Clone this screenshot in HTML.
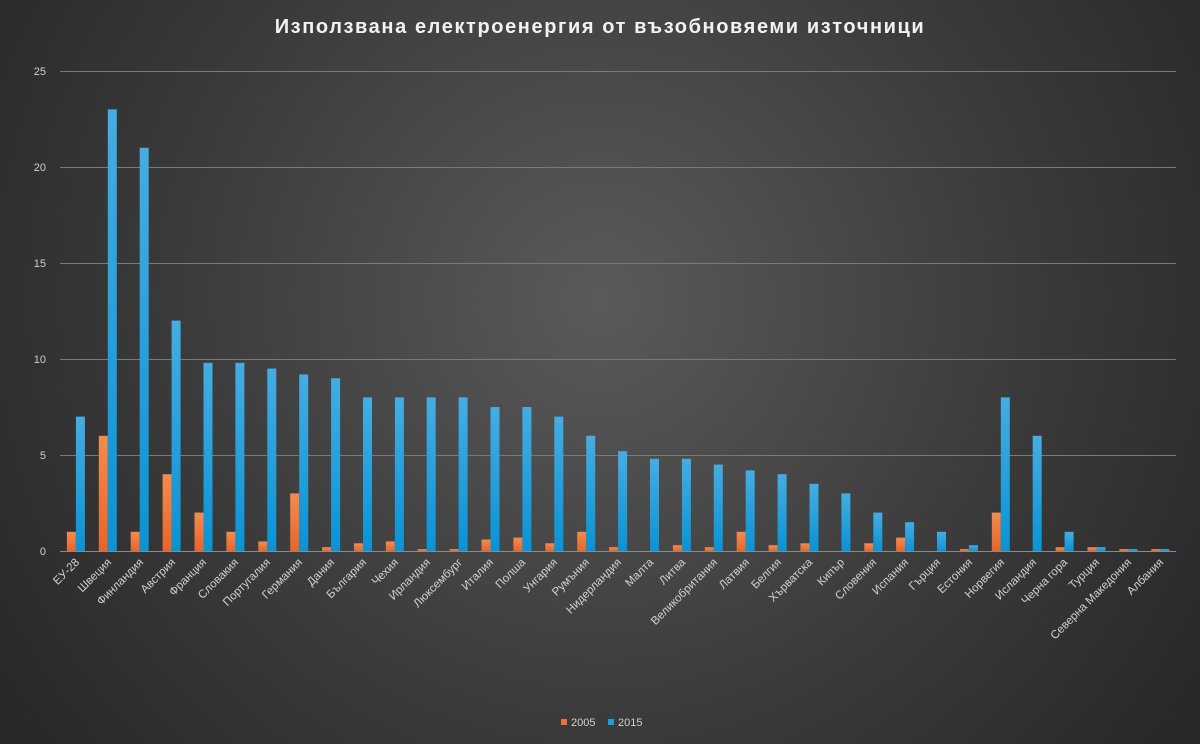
<!DOCTYPE html>
<html><head><meta charset="utf-8"><style>
html,body{margin:0;padding:0;}
body{width:1200px;height:744px;overflow:hidden;background:#333;}
svg{display:block;font-family:"Liberation Sans","DejaVu Sans",sans-serif;}
</style></head><body>
<svg width="1200" height="744" viewBox="0 0 1200 744" xmlns="http://www.w3.org/2000/svg">
<defs>
<radialGradient id="bg" cx="600" cy="300" r="720" gradientUnits="userSpaceOnUse">
<stop offset="0" stop-color="#5a5a5a"/><stop offset="0.6" stop-color="#3a3a3a"/><stop offset="1" stop-color="#282828"/>
</radialGradient>
<linearGradient id="o" x1="0" y1="0" x2="0" y2="1"><stop offset="0" stop-color="#f28c50"/><stop offset="1" stop-color="#e8652a"/></linearGradient>
<linearGradient id="b" x1="0" y1="0" x2="0" y2="1"><stop offset="0" stop-color="#45ade2"/><stop offset="1" stop-color="#0a93d5"/></linearGradient>
</defs>
<rect width="1200" height="744" fill="url(#bg)"/>
<text x="600" y="33" text-anchor="middle" fill="#f2f2f2" font-size="20" font-weight="bold" letter-spacing="1.6">Използвана електроенергия от възобновяеми източници</text>
<g stroke="#7a7a7a" stroke-width="1">
<line x1="60" x2="1176" y1="71.5" y2="71.5"/><line x1="60" x2="1176" y1="167.5" y2="167.5"/><line x1="60" x2="1176" y1="263.5" y2="263.5"/><line x1="60" x2="1176" y1="359.5" y2="359.5"/><line x1="60" x2="1176" y1="455.5" y2="455.5"/>
</g>
<g fill="#cfcfcf" font-size="11" text-anchor="end">
<text x="46" y="75">25</text><text x="46" y="171">20</text><text x="46" y="267">15</text><text x="46" y="363">10</text><text x="46" y="459">5</text><text x="46" y="555">0</text>
</g>
<g>
<g transform="translate(75.9,0)"><rect x="-9" y="531.8" width="9" height="19.2" fill="url(#o)"/><rect x="0" y="416.6" width="9" height="134.4" fill="url(#b)"/></g>
<g transform="translate(107.8,0)"><rect x="-9" y="435.8" width="9" height="115.2" fill="url(#o)"/><rect x="0" y="109.4" width="9" height="441.6" fill="url(#b)"/></g>
<g transform="translate(139.7,0)"><rect x="-9" y="531.8" width="9" height="19.2" fill="url(#o)"/><rect x="0" y="147.8" width="9" height="403.2" fill="url(#b)"/></g>
<g transform="translate(171.6,0)"><rect x="-9" y="474.2" width="9" height="76.8" fill="url(#o)"/><rect x="0" y="320.6" width="9" height="230.4" fill="url(#b)"/></g>
<g transform="translate(203.5,0)"><rect x="-9" y="512.6" width="9" height="38.4" fill="url(#o)"/><rect x="0" y="362.8" width="9" height="188.2" fill="url(#b)"/></g>
<g transform="translate(235.4,0)"><rect x="-9" y="531.8" width="9" height="19.2" fill="url(#o)"/><rect x="0" y="362.8" width="9" height="188.2" fill="url(#b)"/></g>
<g transform="translate(267.3,0)"><rect x="-9" y="541.4" width="9" height="9.6" fill="url(#o)"/><rect x="0" y="368.6" width="9" height="182.4" fill="url(#b)"/></g>
<g transform="translate(299.2,0)"><rect x="-9" y="493.4" width="9" height="57.6" fill="url(#o)"/><rect x="0" y="374.4" width="9" height="176.6" fill="url(#b)"/></g>
<g transform="translate(331.1,0)"><rect x="-9" y="547.2" width="9" height="3.8" fill="url(#o)"/><rect x="0" y="378.2" width="9" height="172.8" fill="url(#b)"/></g>
<g transform="translate(363.0,0)"><rect x="-9" y="543.3" width="9" height="7.7" fill="url(#o)"/><rect x="0" y="397.4" width="9" height="153.6" fill="url(#b)"/></g>
<g transform="translate(394.9,0)"><rect x="-9" y="541.4" width="9" height="9.6" fill="url(#o)"/><rect x="0" y="397.4" width="9" height="153.6" fill="url(#b)"/></g>
<g transform="translate(426.7,0)"><rect x="-9" y="549.1" width="9" height="1.9" fill="url(#o)"/><rect x="0" y="397.4" width="9" height="153.6" fill="url(#b)"/></g>
<g transform="translate(458.6,0)"><rect x="-9" y="549.1" width="9" height="1.9" fill="url(#o)"/><rect x="0" y="397.4" width="9" height="153.6" fill="url(#b)"/></g>
<g transform="translate(490.5,0)"><rect x="-9" y="539.5" width="9" height="11.5" fill="url(#o)"/><rect x="0" y="407" width="9" height="144" fill="url(#b)"/></g>
<g transform="translate(522.4,0)"><rect x="-9" y="537.6" width="9" height="13.4" fill="url(#o)"/><rect x="0" y="407" width="9" height="144" fill="url(#b)"/></g>
<g transform="translate(554.3,0)"><rect x="-9" y="543.3" width="9" height="7.7" fill="url(#o)"/><rect x="0" y="416.6" width="9" height="134.4" fill="url(#b)"/></g>
<g transform="translate(586.2,0)"><rect x="-9" y="531.8" width="9" height="19.2" fill="url(#o)"/><rect x="0" y="435.8" width="9" height="115.2" fill="url(#b)"/></g>
<g transform="translate(618.1,0)"><rect x="-9" y="547.2" width="9" height="3.8" fill="url(#o)"/><rect x="0" y="451.2" width="9" height="99.8" fill="url(#b)"/></g>
<g transform="translate(650.0,0)"><rect x="0" y="458.8" width="9" height="92.2" fill="url(#b)"/></g>
<g transform="translate(681.9,0)"><rect x="-9" y="545.2" width="9" height="5.8" fill="url(#o)"/><rect x="0" y="458.8" width="9" height="92.2" fill="url(#b)"/></g>
<g transform="translate(713.8,0)"><rect x="-9" y="547.2" width="9" height="3.8" fill="url(#o)"/><rect x="0" y="464.6" width="9" height="86.4" fill="url(#b)"/></g>
<g transform="translate(745.7,0)"><rect x="-9" y="531.8" width="9" height="19.2" fill="url(#o)"/><rect x="0" y="470.4" width="9" height="80.6" fill="url(#b)"/></g>
<g transform="translate(777.6,0)"><rect x="-9" y="545.2" width="9" height="5.8" fill="url(#o)"/><rect x="0" y="474.2" width="9" height="76.8" fill="url(#b)"/></g>
<g transform="translate(809.5,0)"><rect x="-9" y="543.3" width="9" height="7.7" fill="url(#o)"/><rect x="0" y="483.8" width="9" height="67.2" fill="url(#b)"/></g>
<g transform="translate(841.4,0)"><rect x="0" y="493.4" width="9" height="57.6" fill="url(#b)"/></g>
<g transform="translate(873.3,0)"><rect x="-9" y="543.3" width="9" height="7.7" fill="url(#o)"/><rect x="0" y="512.6" width="9" height="38.4" fill="url(#b)"/></g>
<g transform="translate(905.1,0)"><rect x="-9" y="537.6" width="9" height="13.4" fill="url(#o)"/><rect x="0" y="522.2" width="9" height="28.8" fill="url(#b)"/></g>
<g transform="translate(937.0,0)"><rect x="0" y="531.8" width="9" height="19.2" fill="url(#b)"/></g>
<g transform="translate(968.9,0)"><rect x="-9" y="549.1" width="9" height="1.9" fill="url(#o)"/><rect x="0" y="545.2" width="9" height="5.8" fill="url(#b)"/></g>
<g transform="translate(1000.8,0)"><rect x="-9" y="512.6" width="9" height="38.4" fill="url(#o)"/><rect x="0" y="397.4" width="9" height="153.6" fill="url(#b)"/></g>
<g transform="translate(1032.7,0)"><rect x="0" y="435.8" width="9" height="115.2" fill="url(#b)"/></g>
<g transform="translate(1064.6,0)"><rect x="-9" y="547.2" width="9" height="3.8" fill="url(#o)"/><rect x="0" y="531.8" width="9" height="19.2" fill="url(#b)"/></g>
<g transform="translate(1096.5,0)"><rect x="-9" y="547.2" width="9" height="3.8" fill="url(#o)"/><rect x="0" y="547.2" width="9" height="3.8" fill="url(#b)"/></g>
<g transform="translate(1128.4,0)"><rect x="-9" y="549.1" width="9" height="1.9" fill="url(#o)"/><rect x="0" y="549.1" width="9" height="1.9" fill="url(#b)"/></g>
<g transform="translate(1160.3,0)"><rect x="-9" y="549.1" width="9" height="1.9" fill="url(#o)"/><rect x="0" y="549.1" width="9" height="1.9" fill="url(#b)"/></g>
</g>
<line x1="60" x2="1176" y1="551.5" y2="551.5" stroke="#8a8a8a" stroke-width="1"/>
<g fill="#d0d0d0" font-size="11.5" text-anchor="end">
<text transform="translate(80,563) rotate(-45)">ЕУ-28</text>
<text transform="translate(112,563) rotate(-45)">Швеция</text>
<text transform="translate(144,563) rotate(-45)">Финландия</text>
<text transform="translate(176,563) rotate(-45)">Австрия</text>
<text transform="translate(207,563) rotate(-45)">Франция</text>
<text transform="translate(239,563) rotate(-45)">Словакия</text>
<text transform="translate(271,563) rotate(-45)">Португалия</text>
<text transform="translate(303,563) rotate(-45)">Германия</text>
<text transform="translate(335,563) rotate(-45)">Дания</text>
<text transform="translate(367,563) rotate(-45)">България</text>
<text transform="translate(399,563) rotate(-45)">Чехия</text>
<text transform="translate(431,563) rotate(-45)">Ирландия</text>
<text transform="translate(463,563) rotate(-45)">Люксембург</text>
<text transform="translate(494,563) rotate(-45)">Италия</text>
<text transform="translate(526,563) rotate(-45)">Полша</text>
<text transform="translate(558,563) rotate(-45)">Унгария</text>
<text transform="translate(590,563) rotate(-45)">Румъния</text>
<text transform="translate(622,563) rotate(-45)">Нидерландия</text>
<text transform="translate(654,563) rotate(-45)">Малта</text>
<text transform="translate(686,563) rotate(-45)">Литва</text>
<text transform="translate(718,563) rotate(-45)">Великобритания</text>
<text transform="translate(750,563) rotate(-45)">Латвия</text>
<text transform="translate(782,563) rotate(-45)">Белгия</text>
<text transform="translate(813,563) rotate(-45)">Хърватска</text>
<text transform="translate(845,563) rotate(-45)">Кипър</text>
<text transform="translate(877,563) rotate(-45)">Словения</text>
<text transform="translate(909,563) rotate(-45)">Испания</text>
<text transform="translate(941,563) rotate(-45)">Гърция</text>
<text transform="translate(973,563) rotate(-45)">Естония</text>
<text transform="translate(1005,563) rotate(-45)">Норвегия</text>
<text transform="translate(1037,563) rotate(-45)">Исландия</text>
<text transform="translate(1068,563) rotate(-45)">Черна гора</text>
<text transform="translate(1100,563) rotate(-45)">Турция</text>
<text transform="translate(1132,563) rotate(-45)">Северна Македония</text>
<text transform="translate(1164,563) rotate(-45)">Албания</text>
</g>
<rect x="561" y="719" width="6" height="6" fill="#ed7030"/>
<text x="571" y="726" fill="#d0d0d0" font-size="11">2005</text>
<rect x="608" y="719" width="6" height="6" fill="#1a9edb"/>
<text x="618" y="726" fill="#d0d0d0" font-size="11">2015</text>
</svg>
</body></html>
